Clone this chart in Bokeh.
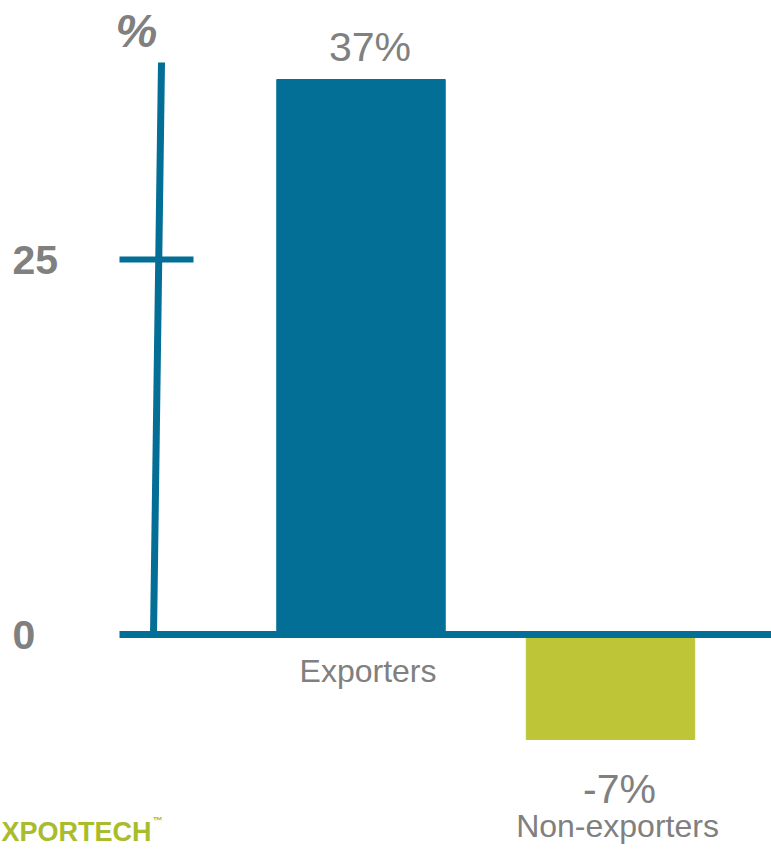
from bokeh.plotting import figure
from bokeh.models import Range1d, ColumnDataSource
from bokeh.core.properties import value
from bokeh.embed import file_html
from bokeh.resources import INLINE

# ---- data ----
categories = ["Exporters", "Non-exporters"]
values = [37, -7]
value_labels = ["37%", "-7%"]
y_ticks = [0, 25]
y_tick_labels = ["0", "25"]
y_unit = "%"
logo_text = "XPORTECH"

# ---- style ----
W, H = 771, 849
BLUE = "#036e96"
LIME = "#bec637"
LOGO = "#a8bc2c"
GRAY = "#808080"
FONT = "'Liberation Sans Narrow', 'Arial Narrow', 'Liberation Sans', Arial, sans-serif"

# layout of scales (pixel anchors)
ZERO_PX = 634.0      # pixel row of y = 0
PX_PER_UNIT = 15.0   # pixels per percentage point
CAT0_PX = 360.5      # pixel column of first category centre
CAT_STEP = 249.5     # pixels between categories


def px_x(px):
    return (px - CAT0_PX) / CAT_STEP


def px_y(py):
    return (ZERO_PX - py) / PX_PER_UNIT


p = figure(width=W, height=H, output_backend="svg", toolbar_location=None,
           x_axis_location=None, y_axis_location=None,
           x_range=Range1d(px_x(0), px_x(W)), y_range=Range1d(px_y(H), px_y(0)),
           min_border=0)
p.outline_line_color = None
p.grid.visible = False
p.background_fill_color = "white"
p.border_fill_color = "white"

xs = list(range(len(categories)))
colors = [BLUE if v >= 0 else LIME for v in values]
src = ColumnDataSource(dict(
    x=xs, top=values, color=colors, vlab=value_labels, cat=categories,
    vy=values,
    voff=[-33 if v >= 0 else 49 for v in values],
    cy=[min(v, 0) for v in values],
    coff=[36 if v >= 0 else 86 for v in values],
))

# bars
p.vbar(x="x", top="top", bottom=0, width=0.675, color="color", source=src)

# zero baseline
p.segment(x0=px_x(119), y0=0, x1=px_x(W + 5), y1=0, line_color=BLUE, line_width=7)

# hand-drawn y axis line (slightly slanted) and tick at 25
p.segment(x0=px_x(153), y0=0, x1=px_x(161), y1=px_y(62), line_color=BLUE, line_width=7)
tick_src = ColumnDataSource(dict(y=[t for t in y_ticks if t != 0]))
p.segment(x0=px_x(119), y0="y", x1=px_x(193), y1="y", line_color=BLUE, line_width=6,
          source=tick_src)

# y tick labels
p.text(x=px_x(12), y=y_ticks, text=y_tick_labels, text_align="left",
       text_baseline="middle", text_font=value(FONT), text_font_style="bold",
       text_font_size="41px", text_color=GRAY)

# unit label
p.text(x=[px_x(136)], y=[px_y(30)], text=[y_unit], text_align="center",
       text_baseline="middle", text_font=value(FONT), text_font_style="bold italic",
       text_font_size="47px", text_color=GRAY)

# value labels
p.text(x="x", y="vy", text="vlab", x_offset=9, y_offset="voff", text_align="center",
       text_baseline="middle", text_font=value(FONT), text_font_size="41px",
       text_color=GRAY, source=src)

# category labels
p.text(x="x", y="cy", text="cat", x_offset=7, y_offset="coff", text_align="center",
       text_baseline="middle", text_font=value(FONT), text_font_size="32px",
       text_color=GRAY, source=src)

# logo
p.text(x=[px_x(1)], y=[px_y(831)], text=[logo_text], text_align="left",
       text_baseline="middle", text_font=value(FONT), text_font_style="bold",
       text_font_size="27px", text_color=LOGO)
p.text(x=[px_x(152)], y=[px_y(820)], text=["\u2122"], text_align="left",
       text_baseline="middle", text_font=value(FONT), text_font_style="bold",
       text_font_size="10px", text_color=LOGO)

open("out.html", "w").write(file_html(p, INLINE))
